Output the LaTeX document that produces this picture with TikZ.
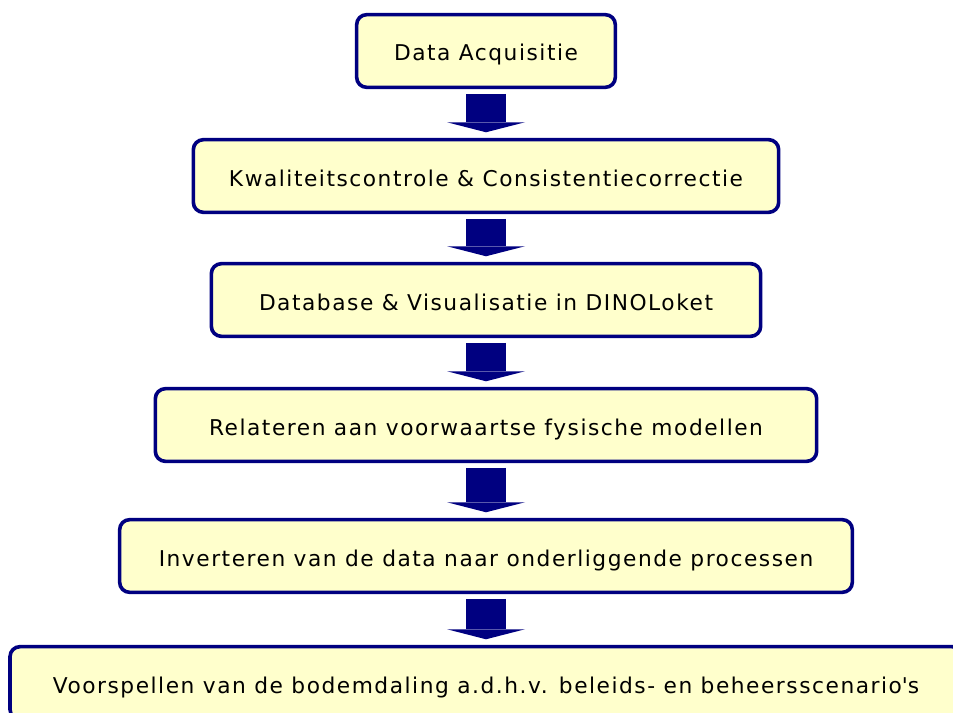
\documentclass[tikz,border=0pt]{standalone}
\usepackage{fontspec}
\setmainfont[LetterSpace=7]{DejaVu Sans}
\usepackage{xcolor}
\usepackage{tikz}
\usetikzlibrary{arrows.meta}
\definecolor{stagenavy}{RGB}{0,0,128}
\definecolor{stageyellow}{RGB}{255,255,204}

\begin{document}
\begin{tikzpicture}[
  x=0.75pt, y=-0.75pt,
  stage/.style={draw=stagenavy, fill=stageyellow, line width=2.7pt, rounded corners=7.5pt,
    minimum height=54.5pt, inner sep=0pt, text height=15pt, text depth=0pt,
    font=\fontsize{16.3}{19}\selectfont},
  flow/.style={stagenavy, line width=30pt,
    -{Triangle[width=58.5pt, length=7.5pt, line width=0pt]},
    shorten <=3.5pt, shorten >=4.2pt}
]
\useasboundingbox (0,0) rectangle (953,713);
\clip (0,0) rectangle (953,713);

\node[stage, minimum width=194pt]    (acq)  at (486, 51)  {Data Acquisitie};
\node[stage, minimum width=439pt]    (qc)   at (486, 176) {Kwaliteitscontrole \& Consistentiecorrectie};
\node[stage, minimum width=412pt]    (db)   at (486, 300) {Database \& Visualisatie in DINOLoket};
\node[stage, minimum width=496pt]    (fwd)  at (486, 425) {Relateren aan voorwaartse fysische modellen};
\node[stage, minimum width=549.5pt]  (inv)  at (486, 556) {Inverteren van de data naar onderliggende processen};
\node[stage, minimum width=714pt]    (pred) at (486, 683) {Voorspellen van de bodemdaling a.d.h.v. beleids- en beheersscenario\textquotesingle s};

\draw[flow] (acq) -- (qc);
\draw[flow] (qc)  -- (db);
\draw[flow] (db)  -- (fwd);
\draw[flow] (fwd) -- (inv);
\draw[flow] (inv) -- (pred);
\end{tikzpicture}
\end{document}
